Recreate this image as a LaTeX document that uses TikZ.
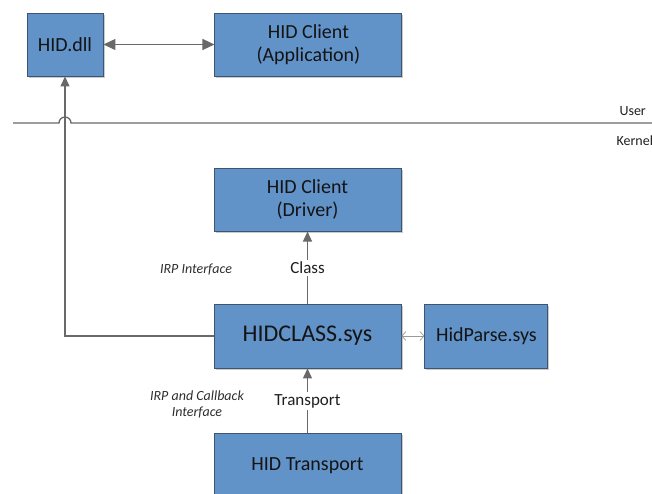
\documentclass[tikz,border=0pt]{standalone}
\usepackage{fontspec}
\setmainfont{Carlito}
\usetikzlibrary{positioning, arrows.meta, shadows}

\definecolor{boxblue}{RGB}{97,146,200}
\definecolor{boxedge}{RGB}{62,84,112}
\definecolor{linegray}{RGB}{105,105,105}

\begin{document}
\begin{tikzpicture}[
  x=1pt, y=-1pt,
  blk/.style={draw=boxedge, fill=boxblue, line width=0.9pt, minimum width=187pt,
              minimum height=63pt, align=center, text=black!92, font=\fontsize{20}{23}\selectfont,
              drop shadow={shadow xshift=1.5pt, shadow yshift=-1.5pt, fill=black!35, opacity=0.6}},
  arr/.style={-{Triangle[length=10pt, width=9pt]}, line width=1.3pt, color=linegray},
  darr/.style={{Triangle[length=12pt, width=11pt]}-{Triangle[length=12pt, width=11pt]}, line width=1.3pt, color=linegray},
  parr/.style={{Straight Barb[length=4pt, width=9pt]}-{Straight Barb[length=4pt, width=9pt]}, line width=0.7pt, color=black!40},
  lbl/.style={font=\fontsize{17}{19}\selectfont, text=black!88, fill=white, inner sep=2pt},
  note/.style={font=\fontsize{14}{16}\selectfont\itshape, text=black!82, align=center},
  side/.style={font=\fontsize{14}{16}\selectfont, text=black!88, anchor=west},
]
\useasboundingbox (0,0) rectangle (652,493);

% === Nodes ===

% User mode
\node[blk, minimum width=76pt] (hiddll) at (65,44.5) {HID.dll};
\node[blk, right=111pt of hiddll] (app) {HID Client\\(Application)};

% Kernel mode
\node[blk, minimum height=64pt, font=\fontsize{24}{27}\selectfont] (hidclass) at (307.5,336) {HIDCLASS.sys};
\node[blk, above=72pt of hidclass] (drv) {HID Client\\(Driver)};
\node[blk, minimum width=123pt, minimum height=64pt, right=23pt of hidclass] (hidparse) {HidParse.sys};
\node[blk, minimum height=64pt, below=65pt of hidclass] (transport) {HID Transport};

% User / Kernel boundary
\coordinate (bl) at (13,123);
\coordinate (br) at (652,123);
\coordinate (hop) at (65,123);
\node[side] (user) at (616,111) {User};
\node[side] (kernel) at (613,141) {Kernel};

% === Arrows ===
\draw[darr] (hiddll) -- (app);
\draw[arr] (hidclass.west) -| (hiddll.south);
\draw[linegray, line width=1.3pt] (bl) -- ([xshift=-6pt]hop) arc (180:360:6) -- (br);

\draw[arr] (hidclass) -- node[lbl] (cls) {Class} (drv);
\draw[arr] (transport) -- node[lbl] (trn) {Transport} (hidclass);
\draw[parr] (hidclass) -- (hidparse);

% === Annotations ===
\node[note] (irp) at (196,270) {IRP Interface};
\node[note] (irpcb) at (197,404) {IRP and Callback\\Interface};

\end{tikzpicture}
\end{document}
